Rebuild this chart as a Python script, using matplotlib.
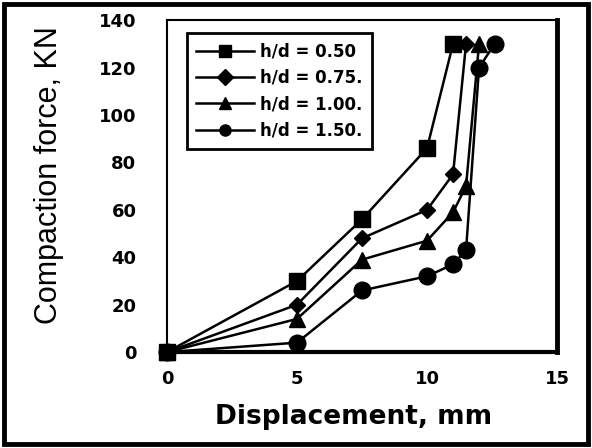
import matplotlib
matplotlib.use("Agg")
import matplotlib.pyplot as plt
from matplotlib.patches import Rectangle

# displacement (mm) and compaction force (kN) per h/d ratio
X_050 = [0, 5, 7.5, 10, 11]
Y_050 = [0, 30, 56, 86, 130]

X_075 = [0, 5, 7.5, 10, 11, 11.5]
Y_075 = [0, 20, 48, 60, 75, 130]

X_100 = [0, 5, 7.5, 10, 11, 11.5, 12]
Y_100 = [0, 14, 39, 47, 59, 70, 130]

X_150 = [0, 5, 7.5, 10, 11, 11.5, 12, 12.6]
Y_150 = [0, 4, 26, 32, 37, 43, 120, 130]

LABELS = ["h/d = 0.50", "h/d = 0.75.", "h/d = 1.00.", "h/d = 1.50."]
XTICKS = [0, 5, 10, 15]
YTICKS = [0, 20, 40, 60, 80, 100, 120, 140]

BOLD = "DejaVu Sans"
PLAIN = "Liberation Sans"

fig = plt.figure(figsize=(5.92, 4.48), dpi=100)
ax = fig.add_axes([0.282, 0.214, 0.659, 0.741])

series = [(X_050, Y_050, "s", 12), (X_075, Y_075, "D", 8),
          (X_100, Y_100, "^", 11), (X_150, Y_150, "o", 12)]
for (xs, ys, mk, ms), lab in zip(series, LABELS):
    ax.plot(xs, ys, color="black", lw=1.8, marker=mk, markersize=ms,
            label=lab, clip_on=False, zorder=3)

ax.set_xlim(0, 15)
ax.set_ylim(0, 140)
ax.set_xticks(XTICKS)
ax.set_yticks(YTICKS)
ax.tick_params(length=0, labelsize=13)
ax.tick_params(axis="y", pad=22)
ax.tick_params(axis="x", pad=13)
for t in ax.get_xticklabels() + ax.get_yticklabels():
    t.set_fontfamily(BOLD)
    t.set_fontweight("bold")

ax.spines["left"].set_linewidth(1.5)
ax.spines["top"].set_linewidth(1.5)
ax.spines["right"].set_linewidth(3.5)
ax.spines["bottom"].set_linewidth(3)

leg = ax.legend(loc="upper left", bbox_to_anchor=(0.051, 0.96), borderaxespad=0,
                frameon=True, fancybox=False, edgecolor="black", framealpha=1,
                prop={"family": BOLD, "weight": "bold", "size": 12},
                handlelength=3.5, labelspacing=0.5, borderpad=0.55,
                handletextpad=0.35)
leg.get_frame().set_linewidth(2)
for h in leg.legend_handles:
    h.set_markersize(8)

fig.text(0.083, 0.61, "Compaction force, KN", rotation=90, ha="center",
         va="center", fontsize=22, family=PLAIN)
fig.text(0.598, 0.069, "Displacement, mm", ha="center", va="center",
         fontsize=19, fontweight="bold", family=BOLD)

fig.patches.append(Rectangle((0.006, 0.008), 0.988, 0.984, transform=fig.transFigure,
                             fill=False, edgecolor="black", linewidth=3.5))

fig.savefig("out.png", dpi=100, facecolor="white")
